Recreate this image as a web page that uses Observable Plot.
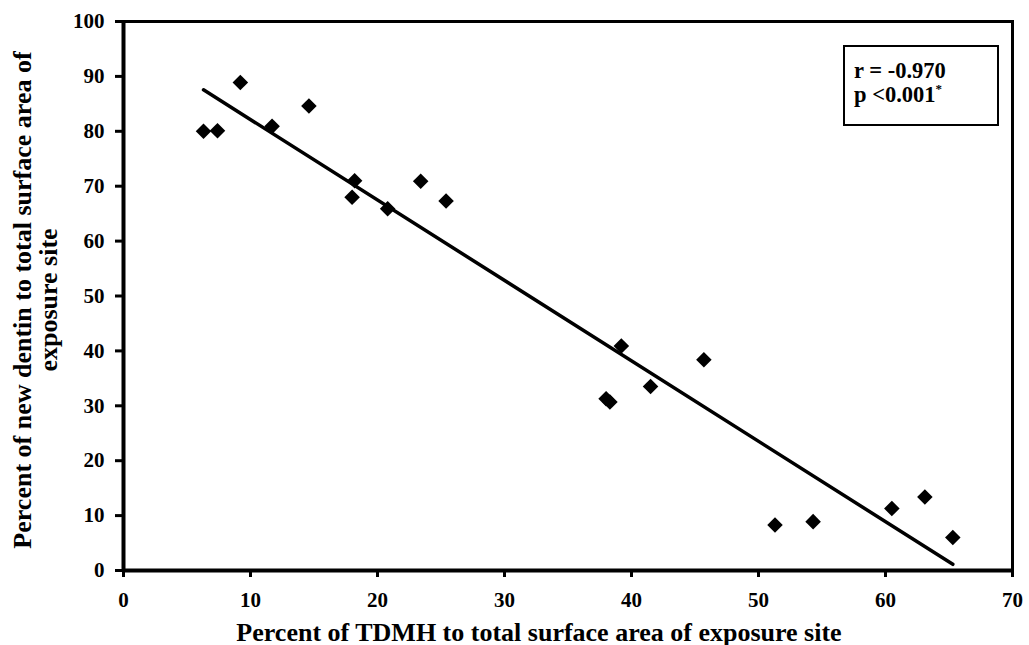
<!DOCTYPE html>
<html>
<head>
<meta charset="utf-8">
<script src="https://cdn.jsdelivr.net/npm/d3@7"></script>
<script src="https://cdn.jsdelivr.net/npm/@observablehq/plot@0.6"></script>
<style>
  html, body { margin: 0; padding: 0; background: white; }
  #wrap { position: relative; width: 1029px; height: 645px; font-family: "Liberation Serif", "Times New Roman", serif; }
  #legend {
    position: absolute; left: 843px; top: 45px;
    border: 2px solid black; background: white;
    font-family: "Liberation Serif", serif; font-weight: bold; font-size: 22.5px;
    line-height: 24px; padding: 12px 0 0 9px; box-sizing: border-box; width: 156px; height: 81px;
  }
  #legend .sup { font-size: 13px; position: relative; top: -9px; }
</style>
</head>
<body>
<div id="wrap"><div id="legend">r = -0.970<br>p &lt;0.001<span class="sup">*</span></div></div>
<script>
// Percent of TDMH (x) and percent of new dentin (y)
const tdmh   = [6.3, 7.4, 9.2, 11.7, 14.6, 18.2, 18.0, 20.8, 23.4, 25.4, 38.0, 38.3, 39.2, 41.5, 45.7, 51.3, 54.3, 60.5, 63.1, 65.3];
const dentin = [80.0, 80.1, 88.9, 80.9, 84.6, 71.0, 68.0, 65.9, 70.9, 67.3, 31.3, 30.7, 40.9, 33.5, 38.4, 8.3, 8.9, 11.3, 13.4, 6.0];
const xTicks = [0, 10, 20, 30, 40, 50, 60, 70];
const yTicks = [0, 10, 20, 30, 40, 50, 60, 70, 80, 90, 100];
const xTitle = "Percent of TDMH to total surface area of exposure site";
const yTitleLines = ["Percent of new dentin to total surface area of", "exposure site"];

const data = tdmh.map((x, i) => ({x, y: dentin[i]}));

const chart = Plot.plot({
  width: 1029,
  height: 645,
  marginLeft: 123,
  marginRight: 17,
  marginTop: 21,
  marginBottom: 75,
  style: {fontFamily: "Liberation Serif, serif", fontWeight: "bold", fontSize: "21px", color: "black", background: "white", overflow: "visible"},
  x: {domain: [0, 70]},
  y: {domain: [0, 100]},
  marks: [
    Plot.frame({stroke: "black", strokeWidth: 3}),
    Plot.axisX({ticks: xTicks, tickSize: 7, tickPadding: 15, tickFormat: d => String(d), label: null, fontSize: 21, strokeWidth: 3}),
    Plot.axisY({ticks: yTicks, tickSize: 8, tickPadding: 11, tickFormat: d => String(d), label: null, fontSize: 21, strokeWidth: 3}),
    Plot.ruleX([0], {stroke: "black", strokeWidth: 4}),
    Plot.ruleY([0], {stroke: "black", strokeWidth: 4}),
    Plot.linearRegressionY(data, {x: "x", y: "y", ci: 0, stroke: "black", strokeWidth: 3.5}),
    Plot.dot(data, {x: "x", y: "y", symbol: "diamond2", r: 7, fill: "black", stroke: "none"}),
    Plot.text([xTitle], {text: d => d, frameAnchor: "bottom", lineAnchor: "bottom", textAnchor: "middle", dy: 70, dx: -29, fontSize: 26, fontWeight: "bold"}),
    Plot.text([yTitleLines[0]], {text: d => d, frameAnchor: "left", rotate: -90, lineAnchor: "bottom", textAnchor: "middle", dx: -93, dy: 4, fontSize: 26, fontWeight: "bold"}),
    Plot.text([yTitleLines[1]], {text: d => d, frameAnchor: "left", rotate: -90, lineAnchor: "bottom", textAnchor: "middle", dx: -67, dy: 4, fontSize: 26, fontWeight: "bold"})
  ]
});
document.getElementById("wrap").insertBefore(chart, document.getElementById("legend"));
</script>
</body>
</html>
